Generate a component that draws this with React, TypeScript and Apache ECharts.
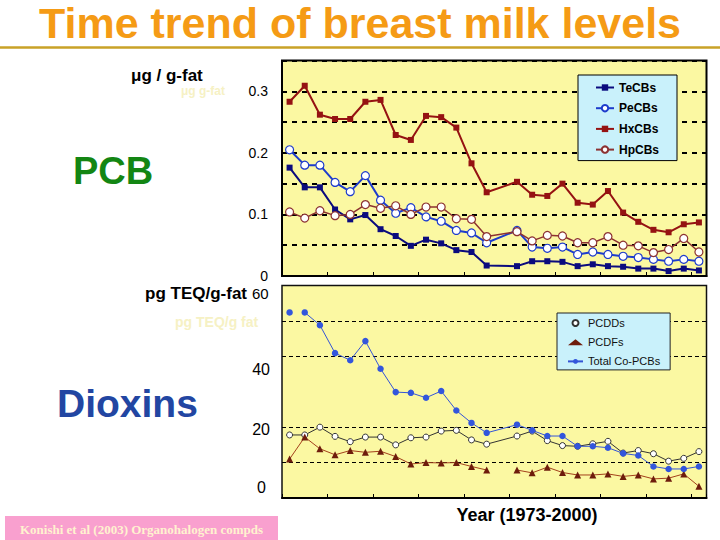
import React, { useEffect, useRef } from 'react';
import * as echarts from 'echarts';

// Survey years (1987 has no sample)
const years = [
  '1973', '1974', '1975', '1976', '1977', '1978', '1979', '1980', '1981', '1982',
  '1983', '1984', '1985', '1986', '1987', '1988', '1989', '1990', '1991', '1992',
  '1993', '1994', '1995', '1996', '1997', '1998', '1999', '2000',
];

// PCB homologues, µg / g-fat
const teCBs = [0.176, 0.144, 0.144, 0.108, 0.092, 0.099, 0.076, 0.065, 0.049, 0.059, 0.053, 0.042, 0.039, 0.017, null, 0.016, 0.024, 0.024, 0.023, 0.016, 0.019, 0.016, 0.015, 0.012, 0.012, 0.008, 0.012, 0.009];
const peCBs = [0.205, 0.18, 0.18, 0.152, 0.137, 0.163, 0.123, 0.102, 0.111, 0.096, 0.089, 0.074, 0.07, 0.054, null, 0.074, 0.047, 0.045, 0.047, 0.035, 0.039, 0.035, 0.032, 0.03, 0.027, 0.024, 0.027, 0.024];
const hxCBs = [0.283, 0.309, 0.262, 0.255, 0.255, 0.283, 0.286, 0.229, 0.221, 0.26, 0.258, 0.241, 0.183, 0.136, null, 0.153, 0.132, 0.13, 0.15, 0.119, 0.116, 0.138, 0.103, 0.088, 0.075, 0.071, 0.084, 0.087];
const hpCBs = [0.104, 0.094, 0.106, 0.098, 0.1, 0.116, 0.11, 0.114, 0.1, 0.112, 0.112, 0.093, 0.092, 0.064, null, 0.072, 0.057, 0.066, 0.065, 0.054, 0.054, 0.064, 0.05, 0.049, 0.038, 0.043, 0.061, 0.039];

// Dioxin-like compounds, pg TEQ / g-fat
const pcdds = [17.8, 17.8, 20.0, 17.4, 15.9, 17.2, 17.2, 15.0, 17.0, 17.2, 18.9, 19.1, 16.4, 15.2, null, 17.5, 18.9, 16.2, 14.8, 14.6, 15.3, 16.0, 12.7, 13.4, 12.5, 10.4, 11.2, 13.1];
const pcdfs = [11.0, 17.2, 13.9, 12.2, 13.4, 12.9, 13.2, 11.7, 9.6, 10.0, 9.9, 10.0, 8.9, 7.9, null, 7.9, 7.1, 8.7, 7.2, 6.5, 6.5, 6.8, 6.1, 6.5, 5.4, 5.6, 6.8, 3.3];
const coPcbs = [52.4, 52.4, 48.8, 40.9, 38.9, 44.3, 36.5, 29.9, 29.7, 28.3, 30.2, 24.7, 21.2, 18.4, null, 20.7, 19.1, 17.5, 17.5, 14.6, 14.6, 14.2, 12.6, 12.0, 8.9, 8.2, 8.2, 8.9];

// Axis settings
const pcbMax = 0.35;
const pcbStep = 0.05;
const doseMax = 60;
const doseStep = 10;
const doseGridValues = [10, 20, 40, 50];
const doseTickLabels = ['40', '20', '0'];

const SANS = '"Liberation Sans", Arial, sans-serif';
const SERIF = '"Liberation Serif", "Times New Roman", serif';
const PLOT_BG = '#fbf8a2';

export default function App() {
  const ref = useRef<HTMLDivElement>(null);

  useEffect(() => {
    if (!ref.current) return;
    const chart = echarts.init(ref.current, null, { renderer: 'svg' });

    const xAxisBase = {
      type: 'category',
      data: years,
      boundaryGap: true,
      axisLine: { show: true, lineStyle: { color: '#000', width: 2 } },
      axisTick: { show: true, inside: true, length: 4, lineStyle: { color: '#000', width: 1 } },
      axisLabel: { show: false },
      splitLine: { show: false },
    };

    const coFirst = coPcbs.map((v, i) => (i === 0 ? v : null));
    const coRest = coPcbs.map((v, i) => (i === 0 ? null : v));

    const coStyle = {
      type: 'line',
      name: 'Total Co-PCBs',
      xAxisIndex: 1,
      yAxisIndex: 1,
      symbol: 'circle',
      symbolSize: 6.5,
      showAllSymbol: true,
      lineStyle: { color: '#3454d6', width: 1 },
      itemStyle: { color: '#3356dc' },
      z: 5,
    };

    const option: any = {
      animation: false,
      backgroundColor: '#ffffff',
      textStyle: { fontFamily: SANS },
      grid: [
        {
          left: 282, top: 60.5, width: 424.5, height: 215.5,
          show: true, backgroundColor: PLOT_BG, borderColor: '#000', borderWidth: 2,
        },
        {
          left: 282, top: 285.5, width: 424.5, height: 212.5,
          show: true, backgroundColor: PLOT_BG, borderColor: '#111', borderWidth: 1.5,
        },
      ],
      xAxis: [
        { ...xAxisBase, gridIndex: 0 },
        { ...xAxisBase, gridIndex: 1 },
      ],
      yAxis: [
        {
          type: 'value', gridIndex: 0, min: 0, max: pcbMax, interval: pcbStep,
          axisLine: { show: false }, axisTick: { show: false },
          splitLine: { show: true, lineStyle: { color: '#000', width: 2, type: [5, 5] } },
          axisLabel: {
            margin: 14, fontSize: 14, color: '#000', fontFamily: SANS,
            formatter: (v: number) => {
              const t = Math.round(v * 100);
              if (t % 10 !== 0) return '';
              return t === 0 ? '0' : (t / 100).toFixed(1);
            },
          },
        },
        {
          type: 'value', gridIndex: 1, min: 0, max: doseMax, interval: doseStep,
          axisLine: { show: false }, axisTick: { show: false },
          splitLine: { show: false }, axisLabel: { show: false },
        },
      ],
      legend: [
        {
          orient: 'vertical', left: 578, top: 75, z: 10,
          data: ['TeCBs', 'PeCBs', 'HxCBs', 'HpCBs'],
          backgroundColor: '#c9f1fb', borderColor: '#000', borderWidth: 1, borderRadius: 0,
          padding: [6.5, 18, 5, 17], itemGap: 8.7, itemWidth: 18, itemHeight: 8,
          selectedMode: false,
          textStyle: { fontSize: 12, fontWeight: 'bold', color: '#000', fontFamily: SANS },
        },
        {
          orient: 'vertical', left: 557, top: 313, z: 10,
          data: [
            { name: 'PCDDs', icon: 'circle' },
            { name: 'PCDFs', icon: 'triangle' },
            { name: 'Total Co-PCBs' },
          ],
          backgroundColor: '#c9f1fb', borderColor: '#222', borderWidth: 1, borderRadius: 0,
          padding: [4.5, 10, 3, 10], itemGap: 8.2, itemWidth: 15, itemHeight: 6,
          selectedMode: false,
          textStyle: { fontSize: 11, color: '#111', fontFamily: SANS },
        },
      ],
      series: [
        {
          type: 'line', name: 'TeCBs', data: teCBs, xAxisIndex: 0, yAxisIndex: 0,
          connectNulls: true, symbol: 'rect', symbolSize: 6, showAllSymbol: true,
          lineStyle: { color: '#0b0b7e', width: 2 }, itemStyle: { color: '#0b0b7e' },
        },
        {
          type: 'line', name: 'PeCBs', data: peCBs, xAxisIndex: 0, yAxisIndex: 0,
          connectNulls: true, symbol: 'circle', symbolSize: 8, showAllSymbol: true,
          lineStyle: { color: '#1e3ccc', width: 2 },
          itemStyle: { color: '#ffffff', borderColor: '#1e3ccc', borderWidth: 1.2 },
        },
        {
          type: 'line', name: 'HxCBs', data: hxCBs, xAxisIndex: 0, yAxisIndex: 0,
          connectNulls: true, symbol: 'rect', symbolSize: 6, showAllSymbol: true,
          lineStyle: { color: '#951212', width: 2 }, itemStyle: { color: '#951212' },
        },
        {
          type: 'line', name: 'HpCBs', data: hpCBs, xAxisIndex: 0, yAxisIndex: 0,
          connectNulls: true, symbol: 'circle', symbolSize: 8, showAllSymbol: true,
          lineStyle: { color: '#8c3232', width: 1.5 },
          itemStyle: { color: '#ffffff', borderColor: '#8c3232', borderWidth: 1.2 },
        },
        {
          type: 'line', name: 'dose-grid', data: [], xAxisIndex: 1, yAxisIndex: 1,
          silent: true, z: 1,
          markLine: {
            silent: true, symbol: 'none', label: { show: false }, z: 1,
            lineStyle: { color: '#000', width: 1, type: [4, 3] },
            emphasis: { disabled: true },
            data: doseGridValues.map((v) => ({ yAxis: v })),
          },
        },
        {
          type: 'line', name: 'PCDDs', data: pcdds, xAxisIndex: 1, yAxisIndex: 1,
          connectNulls: true, symbol: 'circle', symbolSize: 6, showAllSymbol: true,
          lineStyle: { color: '#333', width: 1 },
          itemStyle: { color: '#ffffff', borderColor: '#333', borderWidth: 1 },
          z: 3,
        },
        {
          type: 'line', name: 'PCDFs', data: pcdfs, xAxisIndex: 1, yAxisIndex: 1,
          connectNulls: false, symbol: 'triangle', symbolSize: 7, showAllSymbol: true,
          lineStyle: { color: '#a3401c', width: 1 },
          itemStyle: { color: '#6e1c0c' },
          z: 4,
        },
        { ...coStyle, data: coFirst },
        { ...coStyle, data: coRest, connectNulls: true },
      ],
      graphic: [
        {
          type: 'text', left: 'center', top: 1,
          style: {
            text: 'Time trend of breast milk levels', fill: '#f59b15',
            font: `bold 43px ${SANS}`,
          },
        },
        {
          type: 'line', shape: { x1: 0, y1: 47.5, x2: 720, y2: 47.5 },
          style: { stroke: '#c9a227', lineWidth: 2.5 },
        },
        {
          type: 'text', x: 131, y: 75,
          style: { text: 'μg / g-fat', fill: '#000', font: `bold 17px ${SANS}`, verticalAlign: 'middle' },
        },
        {
          type: 'text', x: 181, y: 91,
          style: { text: 'μg g-fat', fill: '#f6f1c4', font: `bold 12px ${SANS}`, verticalAlign: 'middle' },
        },
        {
          type: 'text', x: 73, y: 171,
          style: { text: 'PCB', fill: '#138613', font: `bold 38px ${SANS}`, verticalAlign: 'middle' },
        },
        {
          type: 'text', x: 57, y: 403,
          style: { text: 'Dioxins', fill: '#2246a2', font: `bold 39px ${SANS}`, verticalAlign: 'middle' },
        },
        {
          type: 'text', x: 247, y: 293,
          style: { text: 'pg TEQ/g-fat', fill: '#000', font: `bold 17px ${SANS}`, align: 'right', verticalAlign: 'middle' },
        },
        {
          type: 'text', x: 252, y: 293,
          style: { text: '60', fill: '#000', font: `15px ${SANS}`, verticalAlign: 'middle' },
        },
        {
          type: 'text', x: 175, y: 322,
          style: { text: 'pg TEQ/g fat', fill: '#f6f1c4', font: `bold 14px ${SANS}`, verticalAlign: 'middle' },
        },
        {
          type: 'text', x: 270, y: 369,
          style: { text: doseTickLabels[0], fill: '#000', font: `16px ${SANS}`, align: 'right', verticalAlign: 'middle' },
        },
        {
          type: 'text', x: 270, y: 429,
          style: { text: doseTickLabels[1], fill: '#000', font: `16px ${SANS}`, align: 'right', verticalAlign: 'middle' },
        },
        {
          type: 'text', x: 266, y: 487,
          style: { text: doseTickLabels[2], fill: '#000', font: `16px ${SANS}`, align: 'right', verticalAlign: 'middle' },
        },
        {
          type: 'rect', shape: { x: 5, y: 516, width: 273, height: 24 },
          style: { fill: '#f9a0cf' },
        },
        {
          type: 'text', x: 141.5, y: 529,
          style: {
            text: 'Konishi et al (2003) Organohalogen compds', fill: '#fff3cf',
            font: `bold 13px ${SERIF}`, align: 'center', verticalAlign: 'middle',
          },
        },
        {
          type: 'text', x: 527, y: 515,
          style: { text: 'Year (1973-2000)', fill: '#000', font: `bold 18px ${SANS}`, align: 'center', verticalAlign: 'middle' },
        },
      ],
    };

    chart.setOption(option);
    return () => chart.dispose();
  }, []);

  return (
    <div
      ref={ref}
      style={{ position: 'fixed', left: 0, top: 0, width: 720, height: 540, background: '#fff' }}
    />
  );
}
